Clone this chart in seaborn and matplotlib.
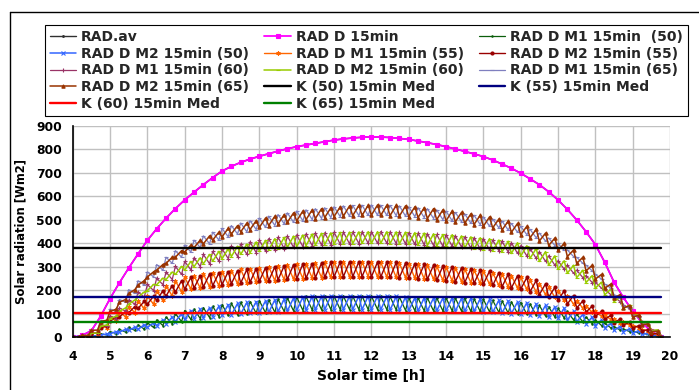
import matplotlib
matplotlib.use("Agg")
import matplotlib.pyplot as plt
import seaborn as sns
from matplotlib.lines import Line2D

# ---------------- data ----------------
# 15-min grid (global radiation curves)
TIME_15 = [4.0, 4.25, 4.5, 4.75, 5.0, 5.25, 5.5, 5.75, 6.0, 6.25, 6.5, 6.75,
           7.0, 7.25, 7.5, 7.75, 8.0, 8.25, 8.5, 8.75, 9.0, 9.25, 9.5, 9.75,
           10.0, 10.25, 10.5, 10.75, 11.0, 11.25, 11.5, 11.75, 12.0, 12.25, 12.5, 12.75,
           13.0, 13.25, 13.5, 13.75, 14.0, 14.25, 14.5, 14.75, 15.0, 15.25, 15.5, 15.75,
           16.0, 16.25, 16.5, 16.75, 17.0, 17.25, 17.5, 17.75, 18.0, 18.25, 18.5, 18.75,
           19.0, 19.25, 19.5, 19.75]

RAD_AV = [0, 8, 28, 90, 165, 232, 295, 355, 413, 462, 507, 548, 585, 618, 650, 680,
          708, 728, 745, 759, 771, 782, 793, 803, 812, 819, 826, 833, 840, 845, 849, 852,
          854, 853, 851, 847, 843, 836, 829, 821, 812, 802, 792, 781, 770, 755, 738, 720,
          699, 675, 650, 620, 585, 545, 500, 450, 395, 320, 235, 170, 112, 62, 25, 3]
RAD_D = [0, 8, 28, 90, 165, 232, 295, 355, 413, 462, 507, 548, 585, 618, 650, 680,
         708, 728, 745, 759, 771, 782, 793, 803, 812, 819, 826, 833, 840, 845, 849, 852,
         854, 853, 851, 847, 843, 836, 829, 821, 812, 802, 792, 781, 770, 755, 738, 720,
         699, 675, 650, 620, 585, 545, 500, 450, 395, 320, 235, 170, 112, 62, 25, 3]

# 5-min grid (tracking methods, 15-min repositioning)
TIME_5 = [
    4.0, 4.0833, 4.1667, 4.25, 4.3333, 4.4167, 4.5, 4.5833, 4.6667, 4.75, 4.8333, 4.9167,
    5.0, 5.0833, 5.1667, 5.25, 5.3333, 5.4167, 5.5, 5.5833, 5.6667, 5.75, 5.8333, 5.9167,
    6.0, 6.0833, 6.1667, 6.25, 6.3333, 6.4167, 6.5, 6.5833, 6.6667, 6.75, 6.8333, 6.9167,
    7.0, 7.0833, 7.1667, 7.25, 7.3333, 7.4167, 7.5, 7.5833, 7.6667, 7.75, 7.8333, 7.9167,
    8.0, 8.0833, 8.1667, 8.25, 8.3333, 8.4167, 8.5, 8.5833, 8.6667, 8.75, 8.8333, 8.9167,
    9.0, 9.0833, 9.1667, 9.25, 9.3333, 9.4167, 9.5, 9.5833, 9.6667, 9.75, 9.8333, 9.9167,
    10.0, 10.0833, 10.1667, 10.25, 10.3333, 10.4167, 10.5, 10.5833, 10.6667, 10.75, 10.8333, 10.9167,
    11.0, 11.0833, 11.1667, 11.25, 11.3333, 11.4167, 11.5, 11.5833, 11.6667, 11.75, 11.8333, 11.9167,
    12.0, 12.0833, 12.1667, 12.25, 12.3333, 12.4167, 12.5, 12.5833, 12.6667, 12.75, 12.8333, 12.9167,
    13.0, 13.0833, 13.1667, 13.25, 13.3333, 13.4167, 13.5, 13.5833, 13.6667, 13.75, 13.8333, 13.9167,
    14.0, 14.0833, 14.1667, 14.25, 14.3333, 14.4167, 14.5, 14.5833, 14.6667, 14.75, 14.8333, 14.9167,
    15.0, 15.0833, 15.1667, 15.25, 15.3333, 15.4167, 15.5, 15.5833, 15.6667, 15.75, 15.8333, 15.9167,
    16.0, 16.0833, 16.1667, 16.25, 16.3333, 16.4167, 16.5, 16.5833, 16.6667, 16.75, 16.8333, 16.9167,
    17.0, 17.0833, 17.1667, 17.25, 17.3333, 17.4167, 17.5, 17.5833, 17.6667, 17.75, 17.8333, 17.9167,
    18.0, 18.0833, 18.1667, 18.25, 18.3333, 18.4167, 18.5, 18.5833, 18.6667, 18.75, 18.8333, 18.9167,
    19.0, 19.0833, 19.1667, 19.25, 19.3333, 19.4167, 19.5, 19.5833, 19.6667, 19.75]

M1_50 = [
    0, 0, 0, 2, 2, 2, 7, 6, 5, 14, 12, 10,
    24, 20, 16, 34, 28, 22, 43, 36, 29, 53, 44, 35,
    62, 52, 42, 74, 62, 50, 86, 72, 58, 101, 84, 67,
    114, 95, 76, 120, 100, 80, 126, 105, 84, 132, 110, 88,
    139, 116, 93, 144, 120, 96, 149, 124, 99, 152, 127, 102,
    156, 130, 104, 160, 133, 106, 163, 136, 109, 168, 140, 112,
    172, 143, 114, 174, 145, 116, 175, 146, 117, 176, 147, 118,
    176, 147, 118, 176, 147, 118, 176, 147, 118, 176, 147, 118,
    176, 147, 118, 175, 146, 117, 174, 145, 116, 172, 143, 114,
    169, 141, 113, 168, 140, 112, 168, 140, 112, 168, 140, 112,
    168, 140, 112, 167, 139, 111, 166, 138, 110, 164, 137, 110,
    162, 135, 108, 158, 132, 106, 155, 129, 103, 151, 126, 101,
    148, 123, 98, 142, 118, 94, 136, 113, 90, 130, 108, 86,
    124, 103, 82, 110, 92, 74, 98, 82, 66, 86, 72, 58,
    74, 62, 50, 60, 50, 40, 46, 38, 30, 36, 30, 24,
    28, 23, 18, 18, 15, 12, 10, 8, 6, 2]
M2_50 = [
    0, 0, 0, 2, 2, 2, 5, 6, 7, 10, 12, 14,
    16, 20, 24, 22, 28, 34, 29, 36, 43, 35, 44, 53,
    42, 52, 62, 50, 62, 74, 58, 72, 86, 67, 84, 101,
    76, 95, 114, 80, 100, 120, 84, 105, 126, 88, 110, 132,
    93, 116, 139, 96, 120, 144, 99, 124, 149, 102, 127, 152,
    104, 130, 156, 106, 133, 160, 109, 136, 163, 112, 140, 168,
    114, 143, 172, 116, 145, 174, 117, 146, 175, 118, 147, 176,
    118, 147, 176, 118, 147, 176, 118, 147, 176, 118, 147, 176,
    118, 147, 176, 117, 146, 175, 116, 145, 174, 114, 143, 172,
    113, 141, 169, 112, 140, 168, 112, 140, 168, 112, 140, 168,
    112, 140, 168, 111, 139, 167, 110, 138, 166, 110, 137, 164,
    108, 135, 162, 106, 132, 158, 103, 129, 155, 101, 126, 151,
    98, 123, 148, 94, 118, 142, 90, 113, 136, 86, 108, 130,
    82, 103, 124, 74, 92, 110, 66, 82, 98, 58, 72, 86,
    50, 62, 74, 40, 50, 60, 30, 38, 46, 24, 30, 36,
    18, 23, 28, 12, 15, 18, 6, 8, 10, 2]
M1_55 = [
    0, 0, 0, 6, 5, 4, 20, 18, 16, 50, 45, 40,
    87, 78, 69, 109, 98, 87, 131, 118, 105, 153, 138, 123,
    175, 158, 141, 198, 178, 158, 220, 198, 176, 241, 217, 193,
    255, 230, 205, 262, 236, 210, 269, 242, 215, 274, 247, 220,
    280, 252, 224, 284, 256, 228, 289, 260, 231, 293, 264, 235,
    297, 268, 239, 301, 271, 241, 305, 275, 245, 309, 278, 247,
    312, 281, 250, 314, 283, 252, 316, 285, 254, 319, 287, 255,
    321, 289, 257, 322, 290, 258, 322, 290, 258, 322, 290, 258,
    321, 289, 257, 320, 288, 256, 319, 287, 255, 316, 285, 254,
    314, 283, 252, 311, 280, 249, 307, 277, 247, 303, 273, 243,
    300, 270, 240, 295, 266, 237, 291, 262, 233, 286, 258, 230,
    282, 254, 226, 275, 248, 221, 269, 242, 215, 262, 236, 210,
    255, 230, 205, 242, 218, 194, 228, 205, 182, 213, 192, 171,
    198, 178, 158, 178, 160, 142, 155, 140, 125, 133, 120, 107,
    111, 100, 89, 94, 85, 76, 78, 70, 62, 64, 58, 52,
    50, 45, 40, 33, 30, 27, 17, 15, 13, 3]
M2_55 = [
    0, 0, 0, 4, 5, 6, 16, 18, 20, 40, 45, 50,
    69, 78, 87, 87, 98, 109, 105, 118, 131, 123, 138, 153,
    141, 158, 175, 158, 178, 198, 176, 198, 220, 193, 217, 241,
    205, 230, 255, 210, 236, 262, 215, 242, 269, 220, 247, 274,
    224, 252, 280, 228, 256, 284, 231, 260, 289, 235, 264, 293,
    239, 268, 297, 241, 271, 301, 245, 275, 305, 247, 278, 309,
    250, 281, 312, 252, 283, 314, 254, 285, 316, 255, 287, 319,
    257, 289, 321, 258, 290, 322, 258, 290, 322, 258, 290, 322,
    257, 289, 321, 256, 288, 320, 255, 287, 319, 254, 285, 316,
    252, 283, 314, 249, 280, 311, 247, 277, 307, 243, 273, 303,
    240, 270, 300, 237, 266, 295, 233, 262, 291, 230, 258, 286,
    226, 254, 282, 221, 248, 275, 215, 242, 269, 210, 236, 262,
    205, 230, 255, 194, 218, 242, 182, 205, 228, 171, 192, 213,
    158, 178, 198, 142, 160, 178, 125, 140, 155, 107, 120, 133,
    89, 100, 111, 76, 85, 94, 62, 70, 78, 52, 58, 64,
    40, 45, 50, 27, 30, 33, 13, 15, 17, 3]
M1_60 = [
    0, 0, 0, 4, 4, 4, 19, 18, 17, 53, 50, 47,
    90, 85, 80, 125, 118, 111, 159, 150, 141, 193, 182, 171,
    225, 212, 199, 252, 238, 224, 278, 262, 246, 302, 285, 268,
    323, 305, 287, 339, 320, 301, 353, 333, 313, 366, 345, 324,
    377, 356, 335, 388, 366, 344, 397, 375, 353, 406, 383, 360,
    413, 390, 367, 420, 396, 372, 426, 402, 378, 431, 407, 383,
    436, 411, 386, 440, 415, 390, 443, 418, 393, 445, 420, 395,
    447, 422, 397, 448, 423, 398, 449, 424, 399, 450, 425, 400,
    450, 425, 400, 450, 425, 400, 449, 424, 399, 448, 423, 398,
    446, 421, 396, 444, 419, 394, 441, 416, 391, 438, 413, 388,
    437, 412, 387, 432, 408, 384, 428, 404, 380, 424, 400, 376,
    420, 396, 372, 414, 391, 368, 409, 386, 363, 403, 380, 357,
    390, 368, 346, 378, 357, 336, 365, 344, 323, 347, 327, 307,
    326, 308, 290, 307, 290, 273, 286, 270, 254, 263, 248, 233,
    235, 222, 209, 205, 193, 181, 172, 162, 152, 138, 130, 122,
    103, 97, 91, 66, 62, 58, 32, 30, 28, 4]
M2_60 = [
    0, 0, 0, 4, 4, 4, 17, 18, 19, 47, 50, 53,
    80, 85, 90, 111, 118, 125, 141, 150, 159, 171, 182, 193,
    199, 212, 225, 224, 238, 252, 246, 262, 278, 268, 285, 302,
    287, 305, 323, 301, 320, 339, 313, 333, 353, 324, 345, 366,
    335, 356, 377, 344, 366, 388, 353, 375, 397, 360, 383, 406,
    367, 390, 413, 372, 396, 420, 378, 402, 426, 383, 407, 431,
    386, 411, 436, 390, 415, 440, 393, 418, 443, 395, 420, 445,
    397, 422, 447, 398, 423, 448, 399, 424, 449, 400, 425, 450,
    400, 425, 450, 400, 425, 450, 399, 424, 449, 398, 423, 448,
    396, 421, 446, 394, 419, 444, 391, 416, 441, 388, 413, 438,
    387, 412, 437, 384, 408, 432, 380, 404, 428, 376, 400, 424,
    372, 396, 420, 368, 391, 414, 363, 386, 409, 357, 380, 403,
    346, 368, 390, 336, 357, 378, 323, 344, 365, 307, 327, 347,
    290, 308, 326, 273, 290, 307, 254, 270, 286, 233, 248, 263,
    209, 222, 235, 181, 193, 205, 152, 162, 172, 122, 130, 138,
    91, 97, 103, 58, 62, 66, 28, 30, 32, 4]
M1_65 = [
    0, 0, 0, 8, 8, 8, 31, 30, 29, 73, 70, 67,
    120, 115, 110, 161, 155, 149, 203, 195, 187, 241, 232, 223,
    279, 268, 257, 310, 298, 286, 341, 328, 315, 369, 355, 341,
    393, 378, 363, 414, 398, 382, 432, 415, 398, 448, 431, 414,
    464, 446, 428, 476, 458, 440, 487, 468, 449, 497, 478, 459,
    508, 488, 468, 516, 496, 476, 523, 503, 483, 530, 510, 490,
    538, 517, 496, 543, 522, 501, 548, 527, 506, 552, 531, 510,
    556, 535, 514, 560, 538, 516, 562, 540, 518, 563, 541, 519,
    564, 542, 520, 563, 541, 519, 562, 540, 518, 560, 538, 516,
    556, 535, 514, 552, 531, 510, 548, 527, 506, 543, 522, 501,
    538, 517, 496, 532, 512, 492, 526, 506, 486, 520, 500, 480,
    513, 493, 473, 504, 485, 466, 495, 476, 457, 485, 466, 447,
    473, 455, 437, 460, 442, 424, 444, 427, 410, 423, 407, 391,
    400, 385, 370, 372, 358, 344, 341, 328, 315, 307, 295, 283,
    268, 258, 248, 227, 218, 209, 182, 175, 168, 135, 130, 125,
    94, 90, 86, 57, 55, 53, 26, 25, 24, 3]
M2_65 = [
    0, 0, 0, 8, 8, 8, 29, 30, 31, 67, 70, 73,
    110, 115, 120, 149, 155, 161, 187, 195, 203, 223, 232, 241,
    257, 268, 279, 286, 298, 310, 315, 328, 341, 341, 355, 369,
    363, 378, 393, 382, 398, 414, 398, 415, 432, 414, 431, 448,
    428, 446, 464, 440, 458, 476, 449, 468, 487, 459, 478, 497,
    468, 488, 508, 476, 496, 516, 483, 503, 523, 490, 510, 530,
    496, 517, 538, 501, 522, 543, 506, 527, 548, 510, 531, 552,
    514, 535, 556, 516, 538, 560, 518, 540, 562, 519, 541, 563,
    520, 542, 564, 519, 541, 563, 518, 540, 562, 516, 538, 560,
    514, 535, 556, 510, 531, 552, 506, 527, 548, 501, 522, 543,
    496, 517, 538, 492, 512, 532, 486, 506, 526, 480, 500, 520,
    473, 493, 513, 466, 485, 504, 457, 476, 495, 447, 466, 485,
    437, 455, 473, 424, 442, 460, 410, 427, 444, 391, 407, 423,
    370, 385, 400, 344, 358, 372, 315, 328, 341, 283, 295, 307,
    248, 258, 268, 209, 218, 227, 168, 175, 182, 125, 130, 135,
    86, 90, 94, 53, 55, 57, 24, 25, 26, 3]

K_50 = 382
K_55 = 170
K_60 = 102
K_65 = 66

LABELS = ["RAD.av", "RAD D 15min", "RAD D M1 15min  (50)", "RAD D M2 15min (50)",
          "RAD D M1 15min (55)", "RAD D M2 15min (55)", "RAD D M1 15min (60)",
          "RAD D M2 15min (60)", "RAD D M1 15min (65)", "RAD D M2 15min (65)",
          "K (50) 15min Med", "K (55) 15min Med", "K (60) 15min Med", "K (65) 15min Med"]

# ---------------- style ----------------
sns.set_theme(style="white")
plt.rcParams['font.family'] = ['DejaVu Sans']
plt.rcParams['font.weight'] = 'bold'

W, H = 699, 390
fig = plt.figure(figsize=(W / 100, H / 100), dpi=100)
x0, x1, y0, y1 = 72.7, 670.0, 126.0, 337.3
ax = fig.add_axes([x0 / W, 1 - y1 / H, (x1 - x0) / W, (y1 - y0) / H])

styles = [
    dict(color="#303030", marker=".", ms=2.5, lw=1.0),
    dict(color="#ff00ff", marker="s", ms=2.4, lw=1.3),
    dict(color="#0b5e0b", marker=".", ms=2.0, lw=0.9),
    dict(color="#3366ff", marker="x", ms=2.8, lw=1.1),
    dict(color="#ff6600", marker=(6, 2, 0), ms=3.0, lw=1.0),
    dict(color="#990000", marker="o", ms=2.2, lw=1.0),
    dict(color="#993366", marker="+", ms=3.0, lw=0.9),
    dict(color="#99cc00", marker="_", ms=3.4, lw=1.1),
    dict(color="#7f7fbf", marker="_", ms=3.0, lw=0.9),
    dict(color="#993300", marker="^", ms=2.4, lw=1.1),
]
data_series = [(TIME_15, RAD_AV), (TIME_15, RAD_D), (TIME_5, M1_50), (TIME_5, M2_50),
               (TIME_5, M1_55), (TIME_5, M2_55), (TIME_5, M1_60), (TIME_5, M2_60),
               (TIME_5, M1_65), (TIME_5, M2_65)]
# markers only at the start / end of each 15-min block
block_ends = [i for i in range(len(TIME_5)) if i % 3 != 1]

handles = []
for lab, (tx, vals), st in zip(LABELS[:10], data_series, styles):
    n_before = len(ax.lines)
    sns.lineplot(x=tx, y=vals, ax=ax, color=st["color"], marker=st["marker"],
                 markersize=st["ms"], linewidth=st["lw"], markeredgecolor=st["color"],
                 markerfacecolor=st["color"], markeredgewidth=0.8,
                 estimator=None, sort=False, legend=False)
    ln = ax.lines[n_before]
    if tx is TIME_5:
        ln.set_markevery(block_ends)
    ln.set_label(lab)
    handles.append(ln)

k_colors = ["#000000", "#000080", "#ff0000", "#008000"]
for lab, kval, c in zip(LABELS[10:], [K_50, K_55, K_60, K_65], k_colors):
    n_before = len(ax.lines)
    sns.lineplot(x=TIME_15, y=[kval] * len(TIME_15), ax=ax, color=c, linewidth=1.7,
                 estimator=None, sort=False, legend=False)
    ln = ax.lines[n_before]
    ln.set_label(lab)
    handles.append(ln)

ax.set_xlim(4, 20)
ax.set_ylim(0, 900)
ax.set_xticks(range(4, 21))
ax.set_yticks(range(0, 901, 100))
ax.grid(True, color="#c0c0c0", linewidth=1.0)
ax.set_axisbelow(True)
for s in ["top", "right"]:
    ax.spines[s].set_visible(False)
for s in ["left", "bottom"]:
    ax.spines[s].set_color("black")
    ax.spines[s].set_linewidth(1.2)
    ax.spines[s].set_zorder(5)
ax.tick_params(axis="both", which="major", direction="out", length=3, width=1,
               color="black", labelsize=8.8, labelcolor="black")
ax.tick_params(axis="x", pad=6.5)
ax.tick_params(axis="y", pad=4.8)
for t in ax.get_xticklabels() + ax.get_yticklabels():
    t.set_fontweight("bold")

ax.set_xlabel("Solar time [h]", fontsize=10, fontweight="bold", color="black")
ax.xaxis.set_label_coords(0.5, (y1 - 369) / (y1 - y0))
ax.set_ylabel("Solar radiation [Wm2]", fontsize=8.4, fontweight="bold", color="black")
ax.yaxis.set_label_coords((27 - x0) / (x1 - x0), 0.5)

# legend: column-major order to reproduce the row-major layout
order = [0, 3, 6, 9, 12, 1, 4, 7, 10, 13, 2, 5, 8, 11]
leg = ax.legend([handles[i] for i in order], [LABELS[i] for i in order],
                ncol=3, loc="upper left", bbox_to_anchor=(45 / W, 1 - 25 / H),
                bbox_transform=fig.transFigure, frameon=True, fancybox=False,
                edgecolor="black", framealpha=1, facecolor="white",
                prop={"weight": "bold", "size": 10}, handlelength=1.9,
                handletextpad=0.35, columnspacing=1.1, labelspacing=0.2,
                borderpad=0.35, borderaxespad=0)
leg.get_frame().set_linewidth(0.8)

# outer chart border (partly cropped in the original)
yb = 1 - 12 / H
xb = 10 / W
fig.add_artist(Line2D([xb, 1.0], [yb, yb], transform=fig.transFigure, color="black", lw=1.0))
fig.add_artist(Line2D([xb, xb], [0.0, yb], transform=fig.transFigure, color="black", lw=1.0))

fig.savefig("out.png", dpi=100)
